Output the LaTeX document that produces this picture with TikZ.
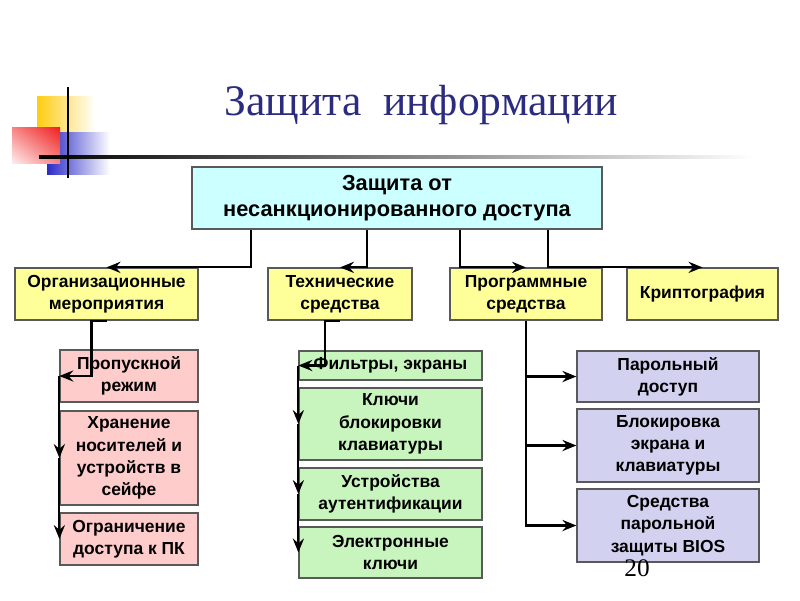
\documentclass[tikz,border=0pt]{standalone}
\usepackage{fontspec}
\setmainfont{Liberation Serif}
\setsansfont{Liberation Sans}
\usetikzlibrary{arrows.meta,calc,shadings}

\definecolor{titleblue}{HTML}{2B2B80}
\definecolor{cyanbox}{HTML}{CCFFFF}
\definecolor{yelbox}{HTML}{FFFF99}
\definecolor{pinkbox}{HTML}{FFCCCC}
\definecolor{greenbox}{HTML}{C8F5BE}
\definecolor{lavbox}{HTML}{D2D2F0}
\definecolor{decyel}{HTML}{FFCC11}
\definecolor{decred}{HTML}{F01E1E}
\definecolor{decblue}{HTML}{2B2BC8}

\begin{document}
\begin{tikzpicture}[x=0.025cm,y=-0.025cm]
\tikzstyle{box}=[draw=black!65,line width=0.9pt,align=center,inner sep=0pt,
  font=\sffamily\bfseries\fontsize{12.4}{15.8}\selectfont]
\tikzstyle{wh}=[minimum width=#1*0.025cm]
\tikzstyle{ht}=[minimum height=#1*0.025cm]
\tikzstyle{arr}=[-{Stealth[length=10pt,width=8pt,inset=3.5pt]},line width=1.5pt]
\useasboundingbox (0,0) rectangle (800,600);
	% decoration
    \shade[left color=decyel,middle color=decyel,right color=white] (37,96) rectangle (95,132);
    \shade[left color=decblue,middle color=decblue,right color=white] (47,132) rectangle (110,174);
    \shade[upper right=decred,upper left=decred!55,lower right=decred!55,lower left=decred!8] (12,127) rectangle (60,163);
    \shade[left color=black,middle color=black!85,right color=white] (39,155.5) rectangle (755,158.5);
    \draw[line width=1.8pt] (68,87) -- (68,178);
    \node[font=\rmfamily\fontsize{31}{36}\selectfont,text=titleblue,anchor=base] (title) at (421,115) {Защита\ \ информации};
    \node[box,fill=cyanbox,wh=410,ht=62,font=\sffamily\bfseries\fontsize{15.5}{18.5}\selectfont] (main) at (397,198) {Защита от\\несанкционированного доступа};
    \node[box,fill=yelbox,wh=183,ht=52] (org) at (106.5,294) {Организационные\\мероприятия};
    \node[box,fill=yelbox,wh=144,ht=52] (tech) at (340,294) {Технические\\средства};
    \node[box,fill=yelbox,wh=152,ht=52] (prog) at (526,294) {Программные\\средства};
    \node[box,fill=yelbox,wh=151,ht=52] (crypt) at (702.5,294) {Криптография};
    \node[box,fill=pinkbox,wh=138,ht=52] (p1) at (129,376) {Пропускной\\режим};
    \node[box,fill=pinkbox,wh=138,ht=94] (p2) at (129,458) {Хранение\\носителей и\\устройств в\\сейфе};
    \node[box,fill=pinkbox,wh=138,ht=52] (p3) at (129,539) {Ограничение\\доступа к ПК};
    \node[box,fill=greenbox,wh=183,ht=29] (g1) at (390.5,365.5) {Фильтры, экраны};
    \node[box,fill=greenbox,wh=183,ht=72] (g2) at (390.5,424) {Ключи\\блокировки\\клавиатуры};
    \node[box,fill=greenbox,wh=183,ht=52] (g3) at (390.5,494) {Устройства\\аутентификации};
    \node[box,fill=greenbox,wh=183,ht=51] (g4) at (390.5,552.5) {Электронные\\ключи};
    \node[box,fill=lavbox,wh=182,ht=51] (l1) at (668,376.5) {Парольный\\доступ};
    \node[box,fill=lavbox,wh=182,ht=73] (l2) at (668,445.5) {Блокировка\\экрана и\\клавиатуры};
    \node[box,fill=lavbox,wh=182,ht=73] (l3) at (668,525.5) {Средства\\парольной\\защиты BIOS};
    \node[font=\rmfamily\fontsize{18}{20}\selectfont] (num) at (637,568) {20};
	% main -> row 2
    \draw[arr] ($(main.south west)+(60,0)$) |- (org.north);
    \draw[arr] ($(main.south west)+(176,0)$) |- (tech.north);
    \draw[arr] ($(main.south west)+(269,0)$) |- (prog.north);
    \draw[arr] ($(main.south west)+(357,0)$) |- (crypt.north);
    \draw[arr] (org.south) -- ++(-15,0) |- (p1.west);
    \draw[arr] (p1.west) -- (p2.west);
    \draw[arr] (p2.west) -- (p3.west);
    \draw[arr] (tech.south) -- ++(-15,0) |- (g1.west);
    \draw[arr] (g1.west) -- (g2.west);
    \draw[arr] (g2.west) -- (g3.west);
    \draw[arr] (g3.west) -- (g4.west);
    \draw[arr] (prog.south) |- (l1.west);
    \draw[arr] (prog.south) |- (l2.west);
    \draw[arr] (prog.south) |- (l3.west);
%	\node at (main) {};
\end{tikzpicture}
\end{document}
